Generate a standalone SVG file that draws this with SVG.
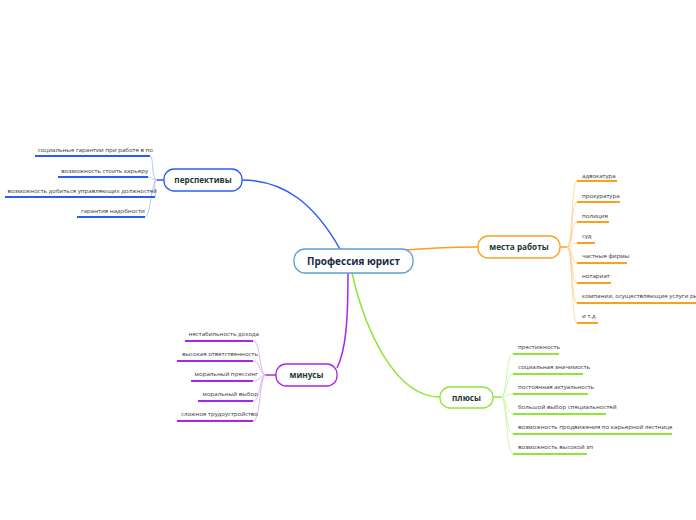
<svg xmlns="http://www.w3.org/2000/svg" width="696" height="520" viewBox="0 0 696 520">
<style>
  .bg{fill:#ffffff}
  .node{fill:#ffffff;stroke-width:1.3}
  .ntext{font-family:"Open Sans","Liberation Sans",sans-serif;font-weight:bold;font-size:8.2px;fill:#1b3b32;text-anchor:middle}
  .ctext{font-family:"Open Sans","Liberation Sans",sans-serif;font-weight:bold;font-size:10px;fill:#1b2a48;text-anchor:middle}
  .leaf{font-family:"Open Sans","Liberation Sans",sans-serif;font-size:6.1px;fill:#333333}
  .l{text-anchor:end}
  .main{fill:none;stroke-width:1.5}
  .fan{fill:none;stroke-width:0.8}
  .ul{fill:none;stroke-width:2}
  .blue{stroke:#2a5cf5}
  .blueL{stroke:#9fb6fb}
  .orange{stroke:#f8a21c}
  .orangeL{stroke:#fbd08f}
  .purple{stroke:#a526ee}
  .purpleL{stroke:#d6a2f7}
  .green{stroke:#8ee636}
  .greenL{stroke:#c6f39a}
</style>
<rect class="bg" x="0" y="0" width="696" height="520"/>
<g id="connectors">
  <path class="main blue" d="M242,180 C285,180 315,205 340,249"/>
  <path class="main orange" d="M405,250 C430,248 452,247 478,247"/>
  <path class="main purple" d="M348,273 C348,320 346,350 337,368"/>
  <path class="main green" d="M352,273 C365,330 395,397 440,397"/>
  <!-- perspectives fan -->
  <path class="main blue" d="M164,180 L157,180"/>
  <path class="fan blueL" d="M157,180 C151,180 154,156 150,156"/>
  <path class="fan blueL" d="M157,180 C151,180 153,177 148,177"/>
  <path class="fan blueL" d="M157,180 C152,180 157,197 155,197"/>
  <path class="fan blueL" d="M157,180 C151,180 151,217 145,217"/>
  <path class="ul blue" d="M35,156 H150 M58,177 H148 M5,197 H155 M77,217 H145"/>
  <!-- places fan -->
  <path class="main orange" d="M560,247 L567,247"/>
  <path class="fan orangeL" d="M567,247 C573,247 571,181 577,181"/>
  <path class="fan orangeL" d="M567,247 C573,247 571,202 577,202"/>
  <path class="fan orangeL" d="M567,247 C573,247 571,222 577,222"/>
  <path class="fan orangeL" d="M567,247 C573,247 571,243 577,243"/>
  <path class="fan orangeL" d="M567,247 C573,247 571,263 577,263"/>
  <path class="fan orangeL" d="M567,247 C573,247 571,283 577,283"/>
  <path class="fan orangeL" d="M567,247 C573,247 571,303 577,303"/>
  <path class="fan orangeL" d="M567,247 C573,247 571,323 577,323"/>
  <path class="ul orange" d="M577,181 H617 M577,202 H620 M577,222 H609 M577,243 H595 M577,263 H627 M577,283 H611 M577,303 H696 M577,323 H598"/>
  <!-- minuses fan -->
  <path class="main purple" d="M276,375 L266,375"/>
  <path class="fan purpleL" d="M266,375 C259,375 261,341 253,341"/>
  <path class="fan purpleL" d="M266,375 C259,375 261,361 253,361"/>
  <path class="fan purpleL" d="M266,375 C259,375 261,381 253,381"/>
  <path class="fan purpleL" d="M266,375 C259,375 261,401 253,401"/>
  <path class="fan purpleL" d="M266,375 C259,375 261,421 253,421"/>
  <path class="ul purple" d="M185,341 H253 M177,361 H253 M191,381 H253 M198,401 H253 M177,421 H253"/>
  <!-- pluses fan -->
  <path class="main green" d="M493,397 L501,397"/>
  <path class="fan greenL" d="M501,397 C507,397 506,354 513,354"/>
  <path class="fan greenL" d="M501,397 C507,397 506,374 513,374"/>
  <path class="fan greenL" d="M501,397 C507,397 506,394 513,394"/>
  <path class="fan greenL" d="M501,397 C507,397 506,414 513,414"/>
  <path class="fan greenL" d="M501,397 C507,397 506,434 513,434"/>
  <path class="fan greenL" d="M501,397 C507,397 506,454 513,454"/>
  <path class="ul green" d="M513,354 H559 M513,374 H583 M513,394 H588 M513,414 H606 M513,434 H672 M513,454 H587"/>
</g>
<g id="center">
  <rect class="node" x="294" y="249" width="119" height="24" rx="11" stroke="#5b9fd8"/>
  <text class="ctext" x="353.5" y="265">Профессия юрист</text>
</g>
<g id="perspectives">
  <rect class="node blue" x="164" y="169" width="78" height="22" rx="10" stroke-width="1.5"/>
  <text class="ntext" x="203" y="183">перспективы</text>
</g>
<g id="perspectives-leaves">
  <text class="leaf l" x="153" y="152">социальные гарантии при работе в по</text>
  <text class="leaf l" x="148" y="172.5">возможность стоить карьеру</text>
  <text class="leaf l" x="157" y="193">возможность добиться управляющих должностей</text>
  <text class="leaf l" x="145" y="213">гарантия надобности</text>
</g>
<g id="places">
  <rect class="node orange" x="478" y="236" width="82" height="22" rx="10" stroke-width="1.5"/>
  <text class="ntext" x="519" y="250">места работы</text>
</g>
<g id="places-leaves">
  <text class="leaf" x="582" y="178">адвокатура</text>
  <text class="leaf" x="582" y="198">прокуратура</text>
  <text class="leaf" x="582" y="218">полиция</text>
  <text class="leaf" x="582" y="238">суд</text>
  <text class="leaf" x="582" y="258">частные фирмы</text>
  <text class="leaf" x="582" y="278">нотариат</text>
  <text class="leaf" x="582" y="298">компании, осуществляющие услуги ры</text>
  <text class="leaf" x="582" y="318">и т.д</text>
</g>
<g id="minuses">
  <rect class="node purple" x="276" y="364" width="61" height="22" rx="10" stroke-width="1.5"/>
  <text class="ntext" x="306.5" y="378">минусы</text>
</g>
<g id="minuses-leaves">
  <text class="leaf l" x="259" y="336">нестабильность дохода</text>
  <text class="leaf l" x="258" y="356">высокая ответственность</text>
  <text class="leaf l" x="258" y="376">моральный прессинг</text>
  <text class="leaf l" x="258" y="396">моральный выбор</text>
  <text class="leaf l" x="258" y="416">сложное трудоустройство</text>
</g>
<g id="pluses">
  <rect class="node green" x="440" y="387" width="53" height="21" rx="10" stroke-width="1.5"/>
  <text class="ntext" x="466.5" y="400.5">плюсы</text>
</g>
<g id="pluses-leaves">
  <text class="leaf" x="518" y="349">престижность</text>
  <text class="leaf" x="518" y="369">социальная значимость</text>
  <text class="leaf" x="518" y="389">постоянная актуальность</text>
  <text class="leaf" x="518" y="409">большой выбор специальностей</text>
  <text class="leaf" x="518" y="429">возможность продвижения по карьерной лестнице</text>
  <text class="leaf" x="518" y="449">возможность высокой зп</text>
</g>
</svg>
